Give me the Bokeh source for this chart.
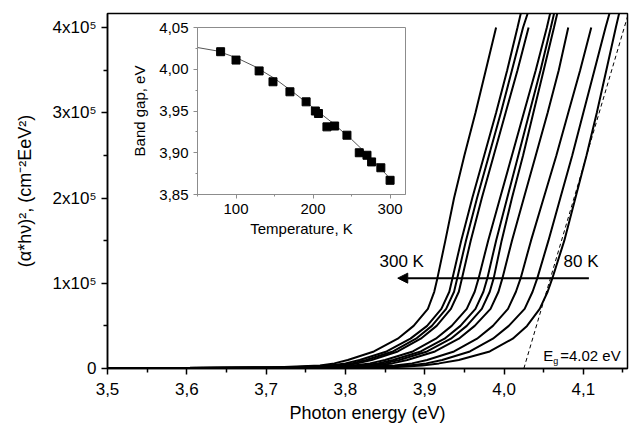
from bokeh.plotting import figure
from bokeh.models import Range1d, FixedTicker, Arrow, NormalHead, Label
from bokeh.embed import file_html
from bokeh.resources import INLINE

# ---------------- main chart data ----------------
x_ticks = [3.5, 3.6, 3.7, 3.8, 3.9, 4.0, 4.1]
x_tick_labels = ["3,5", "3,6", "3,7", "3,8", "3,9", "4,0", "4,1"]
x_minor = [3.55, 3.65, 3.75, 3.85, 3.95, 4.05, 4.15]
y_ticks = [0, 1e5, 2e5, 3e5, 4e5]
y_tick_labels = ["0", "1x10\u2075", "2x10\u2075", "3x10\u2075", "4x10\u2075"]
y_minor = [0.5e5, 1.5e5, 2.5e5, 3.5e5]

# (alpha*h*nu)^2 levels, in units of 1e5
y_levels = [0.004, 0.01, 0.035, 0.06, 0.1, 0.2, 0.35, 0.5, 0.7, 0.9, 1.06,
            1.5, 2.0, 2.5, 3.0, 3.5, 4.0, 4.2]

# photon energy (eV) of each curve at the levels above (300 K ... 80 K)
curve_a = [3.50, 3.70, 3.768, 3.786, 3.803, 3.836, 3.866, 3.886, 3.904, 3.912, 3.916,
           3.926, 3.937, 3.950, 3.964, 3.977, 3.990]
curve_b = [3.50, 3.72, 3.780, 3.800, 3.818, 3.852, 3.882, 3.903, 3.921, 3.931, 3.935,
           3.946, 3.960, 3.975, 3.990, 4.004, 4.017, 4.022]
curve_c = [3.50, 3.73, 3.788, 3.808, 3.826, 3.860, 3.889, 3.909, 3.927, 3.937, 3.941,
           3.952, 3.966, 3.981, 3.996, 4.010, 4.024, 4.031]
curve_d = [3.50, 3.74, 3.795, 3.815, 3.833, 3.866, 3.895, 3.915, 3.933, 3.943, 3.947,
           3.958, 3.972, 3.987, 4.002, 4.017, 4.031]
curve_e = [3.50, 3.75, 3.810, 3.831, 3.850, 3.885, 3.914, 3.934, 3.953, 3.963, 3.968,
           3.980, 3.995, 4.010, 4.025, 4.040, 4.054, 4.059]
curve_f = [3.50, 3.76, 3.820, 3.841, 3.860, 3.895, 3.925, 3.945, 3.964, 3.974, 3.979,
           3.990, 4.004, 4.018, 4.032, 4.046, 4.059, 4.064]
curve_g = [3.50, 3.77, 3.828, 3.849, 3.868, 3.903, 3.933, 3.953, 3.972, 3.982, 3.987,
           3.997, 4.010, 4.024, 4.037, 4.050, 4.063, 4.068]
curve_h = [3.50, 3.78, 3.838, 3.859, 3.878, 3.913, 3.943, 3.963, 3.983, 3.993, 3.998,
           4.010, 4.025, 4.040, 4.055, 4.069, 4.081]
curve_i = [3.50, 3.80, 3.862, 3.884, 3.903, 3.937, 3.966, 3.986, 4.005, 4.015, 4.021,
           4.034, 4.050, 4.066, 4.081, 4.096, 4.110]
curve_j = [3.50, 3.82, 3.880, 3.902, 3.922, 3.957, 3.986, 4.006, 4.026, 4.036, 4.042,
           4.056, 4.071, 4.086, 4.100, 4.114, 4.128, 4.134]
curve_k = [3.50, 3.85, 3.897, 3.918, 3.943, 3.982, 4.011, 4.029, 4.045, 4.055, 4.061,
           4.076, 4.090, 4.104, 4.117, 4.129, 4.141, 4.146]
curves = [curve_a, curve_b, curve_c, curve_d, curve_e, curve_f, curve_g,
          curve_h, curve_i, curve_j, curve_k]

# tangent extrapolation for 80 K (Eg = 4.02 eV)
eg_line_x = [4.025, 4.157]
eg_line_y = [0.0, 4.17]

# ---------------- inset data ----------------
temperature = [80, 100, 130, 148, 170, 191, 203, 207, 218, 228, 244, 260, 270, 276, 288, 300]
band_gap = [4.021, 4.011, 3.998, 3.985, 3.973, 3.961, 3.950, 3.947, 3.931, 3.932,
            3.921, 3.900, 3.897, 3.889, 3.882, 3.867]
fit_t = [50, 75, 100, 125, 150, 175, 200, 225, 250, 275, 300]
fit_e = [4.026, 4.022, 4.014, 4.003, 3.989, 3.972, 3.954, 3.936, 3.916, 3.894, 3.869]
inset_x_ticks = [100, 200, 300]
inset_x_minor = [50, 150, 250]
inset_y_ticks = [3.85, 3.90, 3.95, 4.00, 4.05]
inset_y_labels = ["3,85", "3,90", "3,95", "4,00", "4,05"]
inset_y_minor = [3.875, 3.925, 3.975, 4.025]

FONT = "Liberation Sans"

# ---------------- inset (own root, drawn first) ----------------
inset = figure(width=420, height=239, x_range=Range1d(50, 320), y_range=Range1d(3.85, 4.05),
               output_backend="svg", toolbar_location=None,
               min_border_left=197, min_border_right=15, min_border_top=27, min_border_bottom=45)
inset.background_fill_alpha = 0
inset.border_fill_alpha = 0
inset.xgrid.visible = False
inset.ygrid.visible = False
inset.outline_line_color = "#8c8c8c"
inset.outline_line_width = 1

inset.line(fit_t, fit_e, line_color="#555555", line_width=1)
inset.scatter(temperature, band_gap, marker="square", size=8, fill_color="black",
              line_color="black")

for ax in (inset.xaxis[0], inset.yaxis[0]):
    ax.axis_line_color = "#8c8c8c"
    ax.major_tick_line_color = "#8c8c8c"
    ax.minor_tick_line_color = "#8c8c8c"
    ax.major_tick_in = 0
    ax.major_tick_out = 4
    ax.minor_tick_in = 0
    ax.minor_tick_out = 2
    ax.major_label_text_font = FONT
    ax.major_label_text_font_size = "15px"
    ax.major_label_text_color = "black"
    ax.axis_label_text_font = FONT
    ax.axis_label_text_font_size = "15px"
    ax.axis_label_text_font_style = "normal"
    ax.axis_label_text_color = "black"

inset.xaxis.ticker = FixedTicker(ticks=inset_x_ticks, minor_ticks=inset_x_minor)
inset.xaxis.axis_label = "Temperature, K"
inset.xaxis.axis_label_standoff = 3
inset.yaxis.ticker = FixedTicker(ticks=inset_y_ticks, minor_ticks=inset_y_minor)
inset.yaxis.major_label_overrides = dict(zip(inset_y_ticks, inset_y_labels))
inset.yaxis.axis_label = "Band gap, eV"
inset.yaxis.axis_label_standoff = 8

# ---------------- main figure (own root, pulled up over the inset) ----------------
p = figure(width=629, height=426, x_range=Range1d(3.5, 4.1557), y_range=Range1d(0, 4.165e5),
           output_backend="svg", toolbar_location=None,
           min_border_left=107, min_border_right=2, min_border_top=13, min_border_bottom=58)
p.margin = (-239, 0, 0, 0)
p.background_fill_alpha = 0
p.border_fill_alpha = 0
p.xgrid.visible = False
p.ygrid.visible = False
p.outline_line_color = "black"
p.outline_line_width = 1.5
p.outline_line_alpha = 1.0

for c in curves:
    ys = [v * 1e5 for v in y_levels[:len(c)]]
    p.line(c, ys, line_color="black", line_width=2)

p.line(eg_line_x, [v * 1e5 for v in eg_line_y], line_color="black", line_width=1,
       line_dash="4 3")

p.add_layout(Arrow(end=NormalHead(size=10, fill_color="black", line_color="black"),
                   x_start=4.107, y_start=1.06e5, x_end=3.866, y_end=1.06e5,
                   line_width=2, line_color="black"))

p.add_layout(Label(x=3.843, y=1.255e5, text="300 K", text_baseline="middle",
                   text_font=FONT, text_font_size="17px", text_color="black"))
p.add_layout(Label(x=4.075, y=1.255e5, text="80 K", text_baseline="middle",
                   text_font=FONT, text_font_size="17px", text_color="black"))
p.add_layout(Label(x=4.0494, y=0.1525e5, text="E", text_baseline="middle",
                   text_font=FONT, text_font_size="15px", text_color="black"))
p.add_layout(Label(x=4.0494, y=0.1525e5, text="g", text_baseline="middle", x_offset=10,
                   y_offset=-5, text_font=FONT, text_font_size="9px", text_color="black"))
p.add_layout(Label(x=4.0494, y=0.1525e5, text="=4.02 eV", text_baseline="middle",
                   x_offset=17, text_font=FONT, text_font_size="15px", text_color="black"))

for ax in (p.xaxis[0], p.yaxis[0]):
    ax.axis_line_color = "black"
    ax.axis_line_width = 1.5
    ax.major_tick_line_color = "black"
    ax.minor_tick_line_color = "black"
    ax.major_tick_line_width = 1.5
    ax.minor_tick_line_width = 1.5
    ax.major_tick_in = 0
    ax.major_tick_out = 6
    ax.minor_tick_in = 0
    ax.minor_tick_out = 4
    ax.major_label_text_font = FONT
    ax.major_label_text_font_size = "17px"
    ax.major_label_text_color = "black"
    ax.axis_label_text_font = FONT
    ax.axis_label_text_font_size = "18px"
    ax.axis_label_text_font_style = "normal"
    ax.axis_label_text_color = "black"

p.xaxis.ticker = FixedTicker(ticks=x_ticks, minor_ticks=x_minor)
p.xaxis.major_label_overrides = dict(zip(x_ticks, x_tick_labels))
p.xaxis.axis_label = "Photon energy (eV)"
p.xaxis.major_label_standoff = 8
p.xaxis.axis_label_standoff = 5
p.yaxis.ticker = FixedTicker(ticks=y_ticks, minor_ticks=y_minor)
p.yaxis.major_label_overrides = dict(zip(y_ticks, y_tick_labels))
p.yaxis.axis_label = "(\u03b1*h\u03bd)\u00b2, (cm\u207b\u00b2EeV\u00b2)"
p.yaxis.axis_label_standoff = 15

open("out.html", "w").write(file_html([inset, p], INLINE))
